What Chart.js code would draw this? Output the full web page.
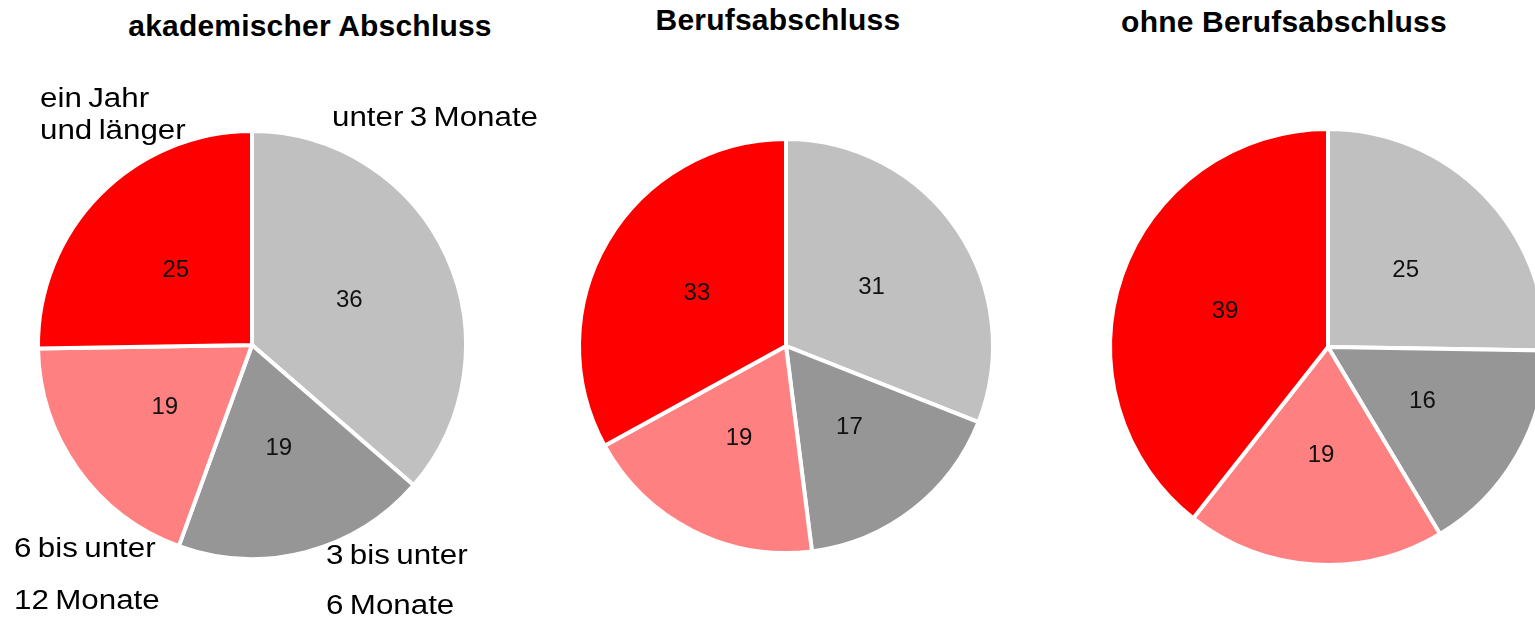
<!DOCTYPE html>
<html>
<head>
<meta charset="utf-8">
<script src="https://cdn.jsdelivr.net/npm/chart.js@4"></script>
<style>
  html,body{margin:0;padding:0;background:#fff;}
  body{width:1535px;height:620px;position:relative;overflow:hidden;font-family:"Liberation Sans",Arial,sans-serif;}
  canvas{position:absolute;}
  .ttl{position:absolute;font-weight:bold;font-size:30px;line-height:1;text-align:center;color:#000;white-space:nowrap;letter-spacing:0.2px;}
  .lbl{position:absolute;font-size:27px;line-height:1;color:#000;white-space:nowrap;transform:scaleX(1.16);transform-origin:left top;word-spacing:-2px;}
</style>
</head>
<body>
<canvas id="p1" width="470" height="470"></canvas>
<canvas id="p2" width="470" height="470"></canvas>
<canvas id="p3" width="470" height="470"></canvas>

<div class="ttl" style="left:110px;top:11px;width:400px">akademischer Abschluss</div>
<div class="ttl" style="left:578px;top:5px;width:400px">Berufsabschluss</div>
<div class="ttl" style="left:1084px;top:7px;width:400px">ohne Berufsabschluss</div>

<div class="lbl" style="left:40px;top:85px">ein Jahr</div>
<div class="lbl" style="left:40px;top:117px">und länger</div>
<div class="lbl" style="left:332px;top:104px">unter 3 Monate</div>
<div class="lbl" style="left:14px;top:535px">6 bis unter</div>
<div class="lbl" style="left:14px;top:587px">12 Monate</div>
<div class="lbl" style="left:326px;top:542px">3 bis unter</div>
<div class="lbl" style="left:326px;top:592px">6 Monate</div>

<script>
// Dauer der Arbeitslosigkeit nach Qualifikation (Anteile in %)
const categories=['unter 3 Monate','3 bis unter 6 Monate','6 bis unter 12 Monate','ein Jahr und länger'];
const akademisch=[36,19,19,25];
const beruf=[31,17,19,33];
const ohne=[25,16,19,39];
const colors=['#c0c0c0','#969696','#ff8080','#ff0000'];

// value labels in the middle of each slice
const valueLabels={
  id:'valueLabels',
  afterDatasetsDraw(chart){
    const ctx=chart.ctx;
    const ds=chart.data.datasets[0];
    ctx.save();
    ctx.font='24px "Liberation Sans", Arial, sans-serif';
    ctx.fillStyle='#111';
    ctx.textAlign='center';ctx.textBaseline='middle';
    chart.getDatasetMeta(0).data.forEach((arc,i)=>{
      const p=arc.tooltipPosition();
      ctx.fillText(ds.data[i],p.x,p.y);
    });
    ctx.restore();
  }
};

function pie(id,cx,cy,r,data){
  const el=document.getElementById(id);
  el.style.left=(cx-235)+'px';el.style.top=(cy-235)+'px';
  new Chart(el,{type:'pie',
    data:{labels:categories,datasets:[{data,backgroundColor:colors,borderColor:'#fff',borderWidth:4}]},
    options:{responsive:false,animation:false,radius:r,layout:{padding:0},
      plugins:{legend:{display:false},tooltip:{enabled:false}}},
    plugins:[valueLabels]});
}

pie('p1',252,345,214,akademisch);
pie('p2',786,346,207,beruf);
pie('p3',1328,347,218,ohne);
</script>
</body>
</html>
